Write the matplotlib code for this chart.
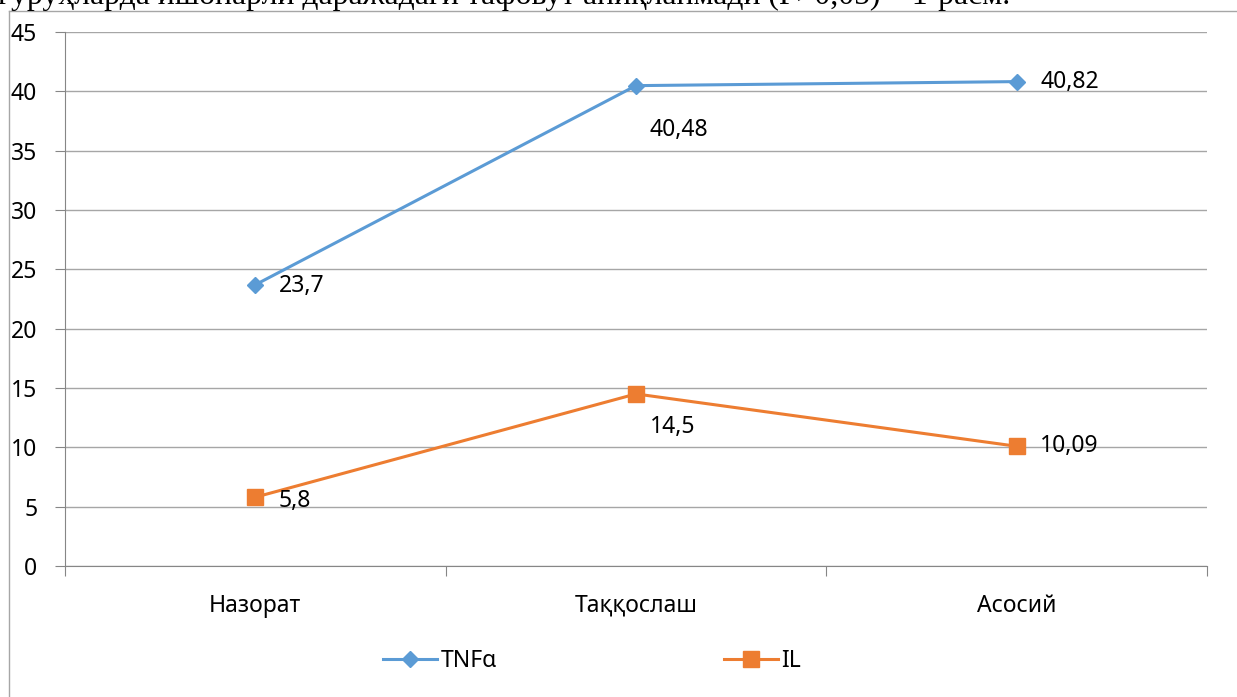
import matplotlib
matplotlib.use("Agg")
import matplotlib.pyplot as plt
from matplotlib.lines import Line2D

categories = ["Назорат", "Таққослаш", "Асосий"]
tnf = [23.7, 40.48, 40.82]
il = [5.8, 14.5, 10.09]
tnf_labels = ["23,7", "40,48", "40,82"]
il_labels = ["5,8", "14,5", "10,09"]
yticks = [0, 5, 10, 15, 20, 25, 30, 35, 40, 45]
caption = "гуруҳларда ишонарли даражадаги тафовут аниқланмади (P>0,05) – 1-расм."

plt.rcParams['font.family'] = ['Noto Sans', 'DejaVu Sans']
FS = 16.5

W, H = 1237, 697
fig = plt.figure(figsize=(W/100, H/100), dpi=100)
ax = fig.add_axes([65/W, 1-566/H, (1207-65)/W, (566-32)/H])

blue = "#5B9BD5"
orange = "#ED7D31"
x = list(range(len(categories)))
ax.plot(x, tnf, color=blue, lw=2.2, marker="D", ms=8.5, zorder=3)
ax.plot(x, il, color=orange, lw=2.2, marker="s", ms=12, zorder=3)

ax.set_xlim(-0.5, 2.5)
ax.set_ylim(0, 45)
ax.set_yticks(yticks)
ax.set_yticklabels([str(v) for v in yticks], fontsize=FS)
ax.yaxis.grid(True, color="#A6A6A6", lw=1)
ax.set_axisbelow(True)
ax.set_xticks([-0.5, 0.5, 1.5, 2.5])
ax.set_xticklabels([])
ax.set_xticks(x, minor=True)
ax.set_xticklabels(categories, minor=True, fontsize=FS)
ax.tick_params(axis='x', which='minor', length=0, pad=20)
ax.tick_params(axis='x', which='major', length=7, color="#868686", direction='out')
ax.tick_params(axis='y', length=7, color="#868686", pad=13)
for s in ["top", "right"]:
    ax.spines[s].set_visible(False)
for s in ["left", "bottom"]:
    ax.spines[s].set_color("#868686")

# data labels: offsets in points (dx, dy)
tnf_off = [(17, -1), (10, -32), (17, 0)]
il_off = [(17, -3), (10, -24), (17, 0)]
for i in x:
    ax.annotate(tnf_labels[i], (i, tnf[i]), xytext=tnf_off[i], textcoords='offset points',
                ha='left', va='center', fontsize=FS)
    ax.annotate(il_labels[i], (i, il[i]), xytext=il_off[i], textcoords='offset points',
                ha='left', va='center', fontsize=FS)

# legend (two entries placed separately)
common = dict(loc='center left', frameon=False, fontsize=FS, handlelength=2.36,
              handletextpad=0.15, borderpad=0, borderaxespad=0)
fig.legend(handles=[Line2D([], [], color=blue, lw=2.2, marker="D", ms=8.5)], labels=["TNFα"],
           bbox_to_anchor=(383/W, 1-661/H), **common)
fig.legend(handles=[Line2D([], [], color=orange, lw=2.2, marker="s", ms=12)], labels=["IL"],
           bbox_to_anchor=(724/W, 1-661/H), **common)

# outer frame
fig.add_artist(Line2D([9/W, 9/W], [0, 1-11/H], color="#A6A6A6", lw=1, transform=fig.transFigure))
fig.add_artist(Line2D([9/W, 1], [1-11/H, 1-11/H], color="#A6A6A6", lw=1, transform=fig.transFigure))

# clipped caption text at very top (as in the reference)
fig.text(-2/W, 1-4/H, caption, family=['Liberation Serif', 'DejaVu Serif'], fontsize=22.8,
         ha='left', va='baseline')

fig.savefig("out.png", dpi=100)
